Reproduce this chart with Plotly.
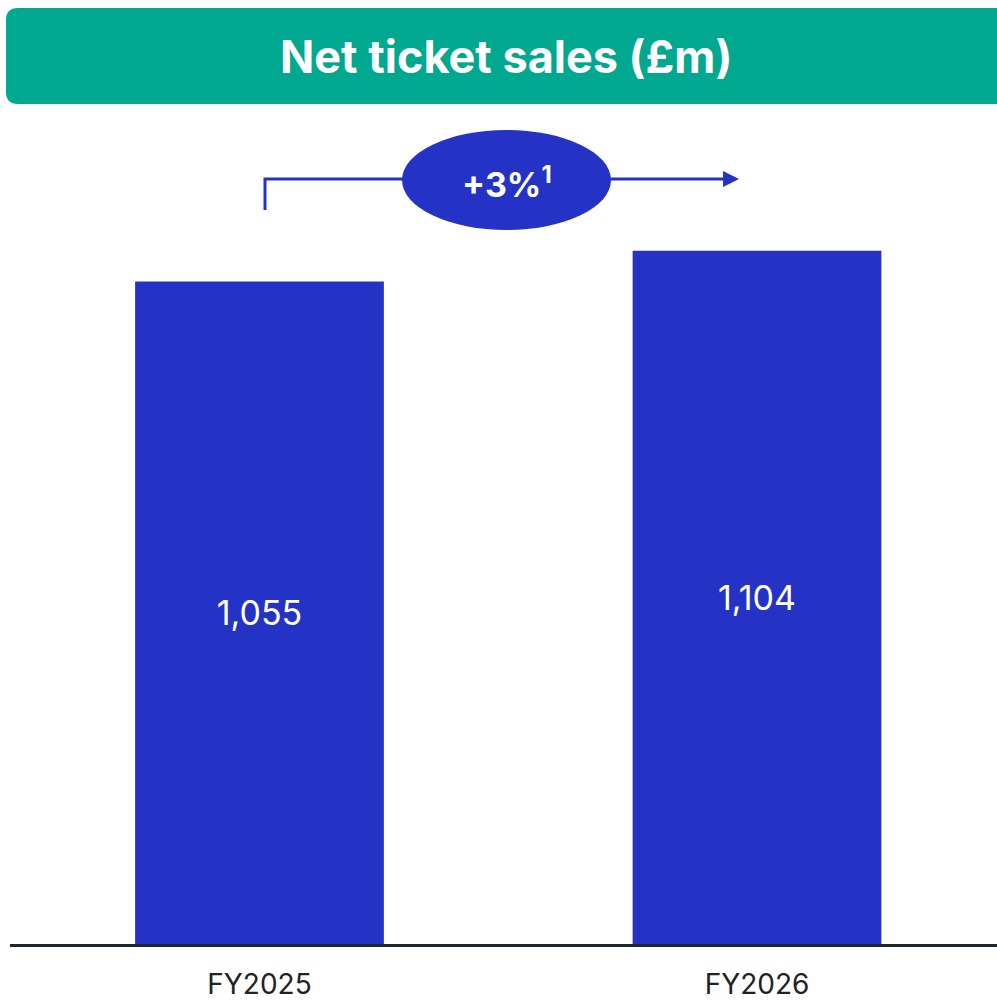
import plotly.graph_objects as go

categories = ["FY2025", "FY2026"]
values = [1055, 1104]
value_labels = ["1,055", "1,104"]
growth_label = "+3%<sup>1</sup>"
title_text = "Net ticket sales (£m)"

W, H = 997, 1001
L, R, T, B = 10, 0, 110, 57
PW, PH = W - L - R, H - T - B

def px(x):
    return (x - L) / PW

def py(y):
    return (H - B - y) / PH

BLUE = "#2433C5"
GREEN = "#00A88F"
FONT = "Inter, Liberation Sans, Arial, sans-serif"

fig = go.Figure()
fig.add_trace(go.Bar(
    x=categories, y=values, text=value_labels,
    textposition="inside", insidetextanchor="middle",
    textfont=dict(color="white", size=34, family=FONT),
    marker=dict(color=BLUE, line=dict(width=0)),
    width=0.5, hoverinfo="skip",
))

# header rounded rectangle
x0, x1, y0, y1, r = 6, 1010, 8, 104, 12
path = (f"M {px(x0+r)},{py(y0)} L {px(x1-r)},{py(y0)} Q {px(x1)},{py(y0)} {px(x1)},{py(y0+r)} "
        f"L {px(x1)},{py(y1-r)} Q {px(x1)},{py(y1)} {px(x1-r)},{py(y1)} "
        f"L {px(x0+r)},{py(y1)} Q {px(x0)},{py(y1)} {px(x0)},{py(y1-r)} "
        f"L {px(x0)},{py(y0+r)} Q {px(x0)},{py(y0)} {px(x0+r)},{py(y0)} Z")
shapes = [
    dict(type="path", xref="paper", yref="paper", path=path, fillcolor=GREEN, line=dict(width=0), layer="below"),
    # arrow polyline
    dict(type="path", xref="paper", yref="paper",
         path=f"M {px(265)},{py(210)} L {px(265)},{py(179)} L {px(726)},{py(179)}",
         line=dict(color=BLUE, width=3)),
    dict(type="path", xref="paper", yref="paper",
         path=f"M {px(723)},{py(171)} L {px(739)},{py(179)} L {px(723)},{py(187)} Z",
         fillcolor=BLUE, line=dict(width=0)),
    dict(type="circle", xref="paper", yref="paper",
         x0=px(402), x1=px(611), y0=py(230), y1=py(130),
         fillcolor=BLUE, line=dict(width=0)),
]

annotations = [
    dict(text=f"<b>{title_text}</b>", xref="paper", yref="paper", x=px(506), y=py(57),
         showarrow=False, font=dict(color="white", size=45, family=FONT), xanchor="center", yanchor="middle"),
    dict(text=f"<b>{growth_label}</b>", xref="paper", yref="paper", x=px(507), y=py(182),
         showarrow=False, font=dict(color="white", size=34, family=FONT), xanchor="center", yanchor="middle"),
]

fig.update_layout(
    width=W, height=H, margin=dict(l=L, r=R, t=T, b=B, autoexpand=False),
    paper_bgcolor="white", plot_bgcolor="white",
    showlegend=False, shapes=shapes, annotations=annotations,
    xaxis=dict(range=[-0.5015, 1.4824], showgrid=False, zeroline=False, automargin=False,
               showline=True, linecolor="#1E262B", linewidth=3,
               ticks="outside", ticklen=13, tickcolor="rgba(0,0,0,0)",
               tickfont=dict(size=28, color="#222222", family=FONT)),
    yaxis=dict(range=[0, 1328], visible=False, showgrid=False, zeroline=False, automargin=False),
)

fig.write_html("out.html")
